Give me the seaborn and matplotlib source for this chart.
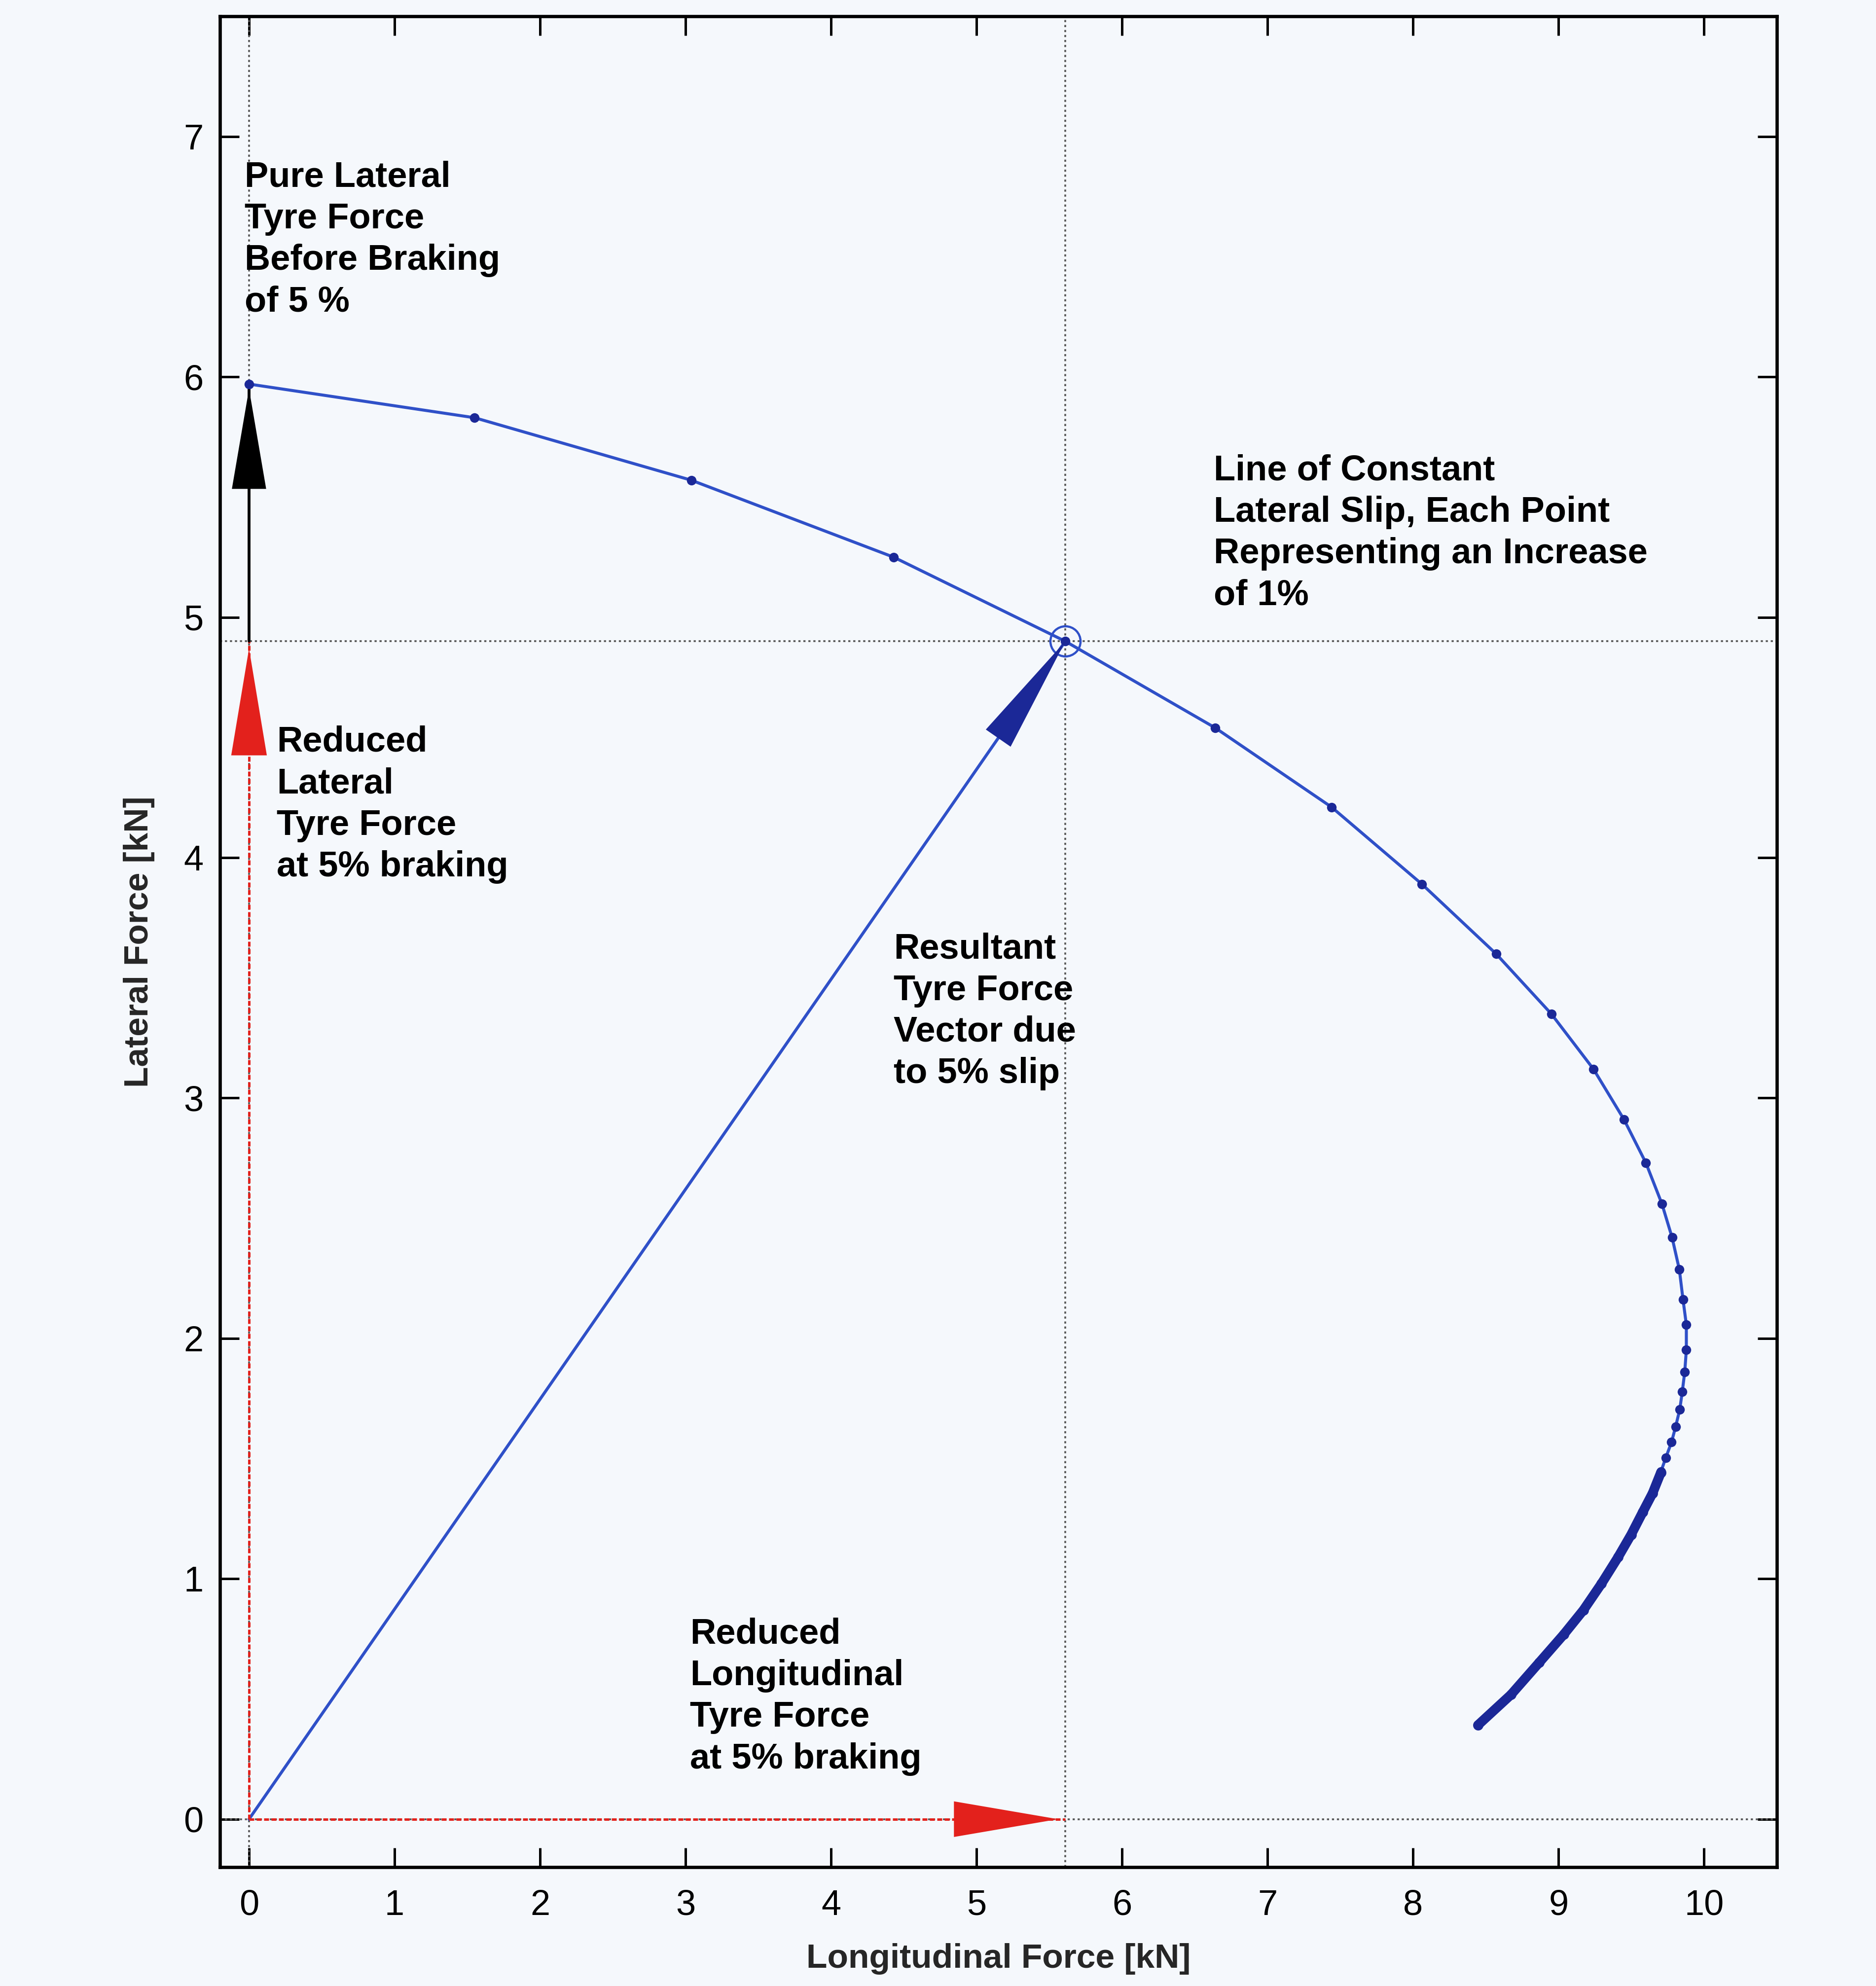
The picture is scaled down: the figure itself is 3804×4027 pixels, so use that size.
import matplotlib
matplotlib.use("Agg")
import matplotlib.pyplot as plt
import seaborn as sns
import numpy as np

# ---------------- data ----------------
# constant lateral slip line, individual (resolvable) points
curve_x = [0.00, 1.55, 3.04, 4.43, 5.61, 6.64, 7.44, 8.06, 8.57, 8.95, 9.24,
           9.45, 9.60, 9.71, 9.78, 9.83, 9.855, 9.878, 9.878, 9.867, 9.850,
           9.833, 9.804, 9.776, 9.737, 9.703]
curve_y = [5.97, 5.83, 5.57, 5.25, 4.90, 4.54, 4.21, 3.89, 3.60, 3.35, 3.12,
           2.91, 2.73, 2.56, 2.42, 2.286, 2.162, 2.057, 1.952, 1.861, 1.778,
           1.705, 1.632, 1.568, 1.504, 1.445]
# dense tail where points merge into a thick band
tail_x = [9.703, 9.646, 9.578, 9.499, 9.409, 9.295, 9.171, 9.035, 8.866, 8.673, 8.447]
tail_y = [1.442, 1.356, 1.277, 1.184, 1.090, 0.980, 0.870, 0.768, 0.651, 0.518, 0.392]

# force vectors at 5% braking
fx_5 = 5.61          # reduced longitudinal force [kN]
fy_5 = 4.90          # reduced lateral force [kN]
fy_pure = 5.95       # pure lateral force before braking [kN]

x_ticks = [0, 1, 2, 3, 4, 5, 6, 7, 8, 9, 10]
y_ticks = [0, 1, 2, 3, 4, 5, 6, 7]

notes = [
    ("Pure Lateral\nTyre Force\nBefore Braking\nof 5 %", -0.03, 6.90),
    ("Reduced\nLateral\nTyre Force\nat 5% braking", 0.19, 4.55),
    ("Resultant\nTyre Force\nVector due\nto 5% slip", 4.43, 3.69),
    ("Line of Constant\nLateral Slip, Each Point\nRepresenting an Increase\nof 1%", 6.63, 5.68),
    ("Reduced\nLongitudinal\nTyre Force\nat 5% braking", 3.03, 0.84),
]

# ---------------- style ----------------
sns.set_theme(style="ticks")
plt.rcParams["font.family"] = ["Liberation Sans", "DejaVu Sans"]
BG = "#f5f8fc"
LINE_BLUE = "#2f50c8"
DARK_BLUE = "#1b2897"
RED = "#e3211c"
GREY = "#555555"

DPI = 200
fig = plt.figure(figsize=(3805 / DPI, 4027 / DPI), dpi=DPI, facecolor=BG)
ax = fig.add_axes([0.1172, 0.0598, 0.8297, 0.9320])
ax.set_facecolor(BG)

ax.set_xlim(-0.2, 10.5)
ax.set_ylim(-0.2, 7.5)

# dotted reference lines
dot = (0, (1.2, 1.6))
ax.axvline(0, color=GREY, lw=1.3, ls=dot, zorder=1)
ax.axvline(fx_5, color=GREY, lw=1.3, ls=dot, zorder=1)
ax.axhline(fy_5, color=GREY, lw=1.3, ls=dot, zorder=1)
ax.axhline(0, color=GREY, lw=1.3, ls=dot, zorder=1)

# resultant vector shaft
sns.lineplot(x=[0, fx_5], y=[0, fy_5], sort=False, estimator=None,
             color=LINE_BLUE, lw=2.2, ax=ax, zorder=3)

# red component shafts
ax.plot([0, fx_5], [0, 0], color=RED, lw=1.8, ls=(0, (2, 1)), zorder=3)
ax.plot([0, 0], [0, fy_5], color=RED, lw=1.8, ls=(0, (2, 1)), zorder=3)
# black pure lateral shaft
ax.plot([0, 0], [fy_5, fy_pure], color="black", lw=2.1, zorder=3)

# constant-slip curve
sns.lineplot(x=curve_x, y=curve_y, sort=False, estimator=None,
             color=LINE_BLUE, lw=2.2, ax=ax, zorder=4)
ax.plot(curve_x, curve_y, ls="none", marker="o", ms=7, mew=0,
        color=DARK_BLUE, zorder=5)
sns.lineplot(x=tail_x, y=tail_y, sort=False, estimator=None,
             color=DARK_BLUE, lw=7.0, ax=ax, zorder=5)
ax.lines[-1].set_solid_capstyle("round")
ax.plot(tail_x, tail_y, ls="none", marker="o", ms=7.5, mew=0,
        color=DARK_BLUE, zorder=5)

# circled 5% point
ax.plot([fx_5], [fy_5], ls="none", marker="o", ms=22, mfc="none",
        mec=LINE_BLUE, mew=1.6, zorder=6)

# arrow heads
def head(tip, start, color, length, width):
    ax.annotate("", xy=tip, xytext=start, zorder=7,
                arrowprops=dict(arrowstyle=f"-|>,head_length={length},head_width={width}",
                                mutation_scale=10, lw=0, color=color,
                                shrinkA=0, shrinkB=0))

head((fx_5, fy_5), (0, 0), DARK_BLUE, 8.6, 1.1)
head((0, fy_pure), (0, fy_5), "black", 7.3, 1.25)
head((0, fy_5 - 0.03), (0, 0), RED, 7.8, 1.3)
head((fx_5 - 0.05, 0), (0, 0), RED, 7.6, 1.3)

# annotation texts
for txt, x, y in notes:
    ax.text(x, y, txt, fontsize=26, fontweight="bold", ha="left", va="top",
            linespacing=1.31, color="black", zorder=8)

# axes styling
ax.set_xticks(x_ticks)
ax.set_yticks(y_ticks)
ax.tick_params(direction="in", length=14, width=1.8, top=True, right=True,
               labelsize=26, colors="black")
ax.tick_params(axis="x", pad=16)
ax.tick_params(axis="y", pad=12)
for s in ax.spines.values():
    s.set_linewidth(2.4)
    s.set_color("black")
ax.grid(False)

ax.set_xlabel("Longitudinal Force [kN]", fontsize=25, fontweight="bold")
ax.set_ylabel("Lateral Force [kN]", fontsize=25, fontweight="bold")
ax.xaxis.set_label_coords(0.5, -0.0496)
ax.xaxis.label.set_va("center")
ax.yaxis.set_label_coords(-0.052, 0.5)
ax.yaxis.label.set_va("center")

fig.savefig("out.png", dpi=DPI, facecolor=BG)
